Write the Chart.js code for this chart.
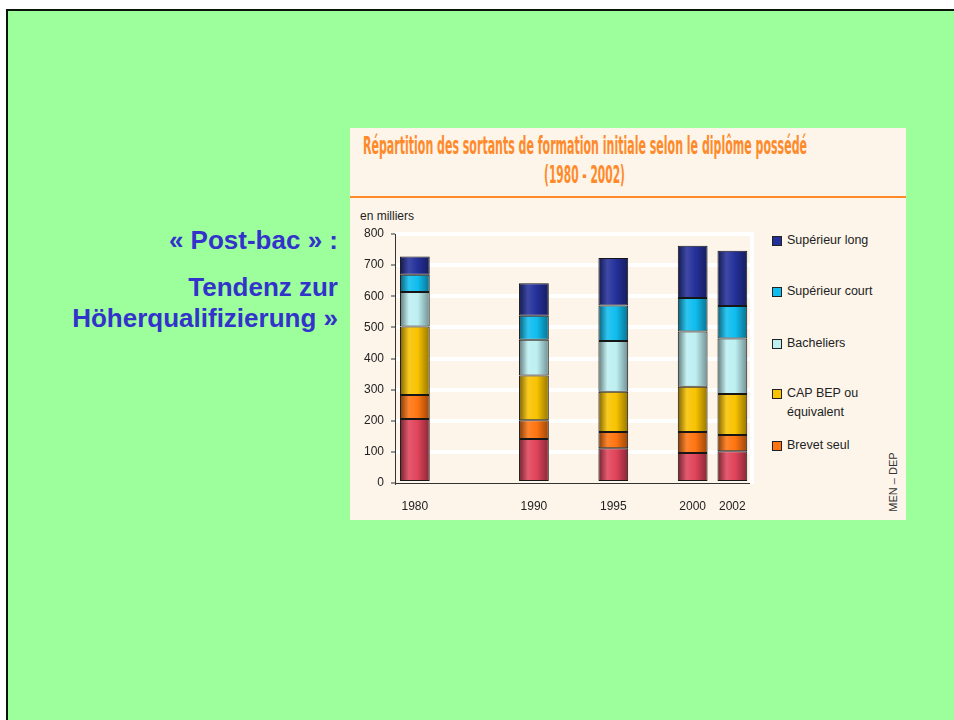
<!DOCTYPE html>
<html lang="fr">
<head>
<meta charset="UTF-8">
<title>Répartition des sortants de formation initiale</title>
<script src="https://cdn.jsdelivr.net/npm/chart.js@4.4.1/dist/chart.umd.min.js"></script>
<style>
  html, body { margin: 0; padding: 0; width: 954px; height: 720px; overflow: hidden; background: #fff;
               font-family: "Liberation Sans", Arial, sans-serif; }
  .slide { position: absolute; left: 6px; top: 9px; width: 960px; height: 720px; background: #9CFF9C;
           border-top: 2px solid #0b140b; border-left: 2px solid #0b140b; }
  .side { position: absolute; left: 0; width: 338px; text-align: right; color: #3333CC;
          font-weight: bold; font-size: 26px; line-height: 30px; white-space: nowrap; }
  .panel { position: absolute; left: 350px; top: 128px; width: 556px; height: 392px; background: #FDF5EA; }
  .title { position: absolute; color: #FF8A2A; font-family: "DejaVu Sans Condensed", "DejaVu Sans", sans-serif;
           font-weight: bold; font-size: 25px; line-height: 26px; white-space: nowrap; transform-origin: 0 50%; }
  .rule { position: absolute; left: 350px; top: 196px; width: 556px; height: 2px; background: #FF8A2A; }
  #wrap { position: absolute; left: 350px; top: 200px; width: 412px; height: 320px; }
  .unit { position: absolute; left: 360px; top: 209px; font-size: 12px; color: #222; }
  #legend { position: absolute; left: 772px; top: 0; font-size: 12.5px; color: #222; }
  .item { position: absolute; left: 0; white-space: nowrap; line-height: 19px; }
  .sq { position: absolute; left: 0; top: 5px; width: 8px; height: 8px; border: 1px solid #222; }
  .lbl { position: absolute; left: 15px; top: 0; }
  .src { position: absolute; left: 863px; top: 476px; width: 60px; font-size: 11px; color: #333;
         transform: rotate(-90deg); text-align: center; white-space: nowrap; }
</style>
</head>
<body>
<div class="slide"></div>
<div class="side" style="top:225px">« Post-bac » :</div>
<div class="side" style="top:272px">Tendenz zur</div>
<div class="side" style="top:303px">Höherqualifizierung »</div>

<div class="panel"></div>
<div class="title" id="t1" style="left:363px; top:133px" data-w="444">Répartition des sortants de formation initiale selon le diplôme possédé</div>
<div class="title" id="t2" style="left:544px; top:162px" data-w="81">(1980 - 2002)</div>
<div class="rule"></div>
<div class="unit">en milliers</div>
<div id="wrap"><canvas id="chart"></canvas></div>
<div id="legend"></div>
<div class="src">MEN – DEP</div>

<script>
// slots on the category axis (empty ones keep the uneven year spacing)
const slots = ['1980', '', '', '1990', '', '1995', '', '2000', '2002'];

// en milliers
const sansDiplome = [206, null, null, 141, null, 112, null, 96, 102];
const brevetSeul  = [77, null, null, 61, null, 52, null, 68, 52];
const capBep      = [220, null, null, 143, null, 129, null, 145, 132];
const bacheliers  = [111, null, null, 115, null, 163, null, 178, 178];
const supCourt    = [55, null, null, 77, null, 114, null, 107, 105];
const supLong     = [59, null, null, 105, null, 153, null, 168, 177];

const yMax = 800;
const yStep = 100;

// fit the condensed title lines to their width
document.querySelectorAll('.title').forEach(el => {
    const w = el.getBoundingClientRect().width;
    el.style.transform = 'scaleX(' + (el.dataset.w / w) + ')';
});

function rgb(hex) {
    const n = parseInt(hex.slice(1), 16);
    return [(n >> 16) & 255, (n >> 8) & 255, n & 255];
}
function mix(hex, f) {
    // f < 1 darkens, f > 1 lightens toward white
    const c = rgb(hex).map(v => f <= 1 ? v * f : v + (255 - v) * (f - 1));
    return 'rgb(' + c.map(v => Math.round(v)).join(',') + ')';
}

// cylinder-like shading across each bar
function barFill(base) {
    return function (ctx) {
        const xs = ctx.chart.scales.x;
        if (ctx.type !== 'data' || !xs) return base;
        const cx = xs.getPixelForValue(ctx.dataIndex);
        const w = xs.width / slots.length * 0.75;
        if (!isFinite(cx) || !isFinite(w) || w <= 0) return base;
        const g = ctx.chart.ctx.createLinearGradient(cx - w / 2, 0, cx + w / 2, 0);
        g.addColorStop(0, mix(base, 0.5));
        g.addColorStop(0.3, mix(base, 1.12));
        g.addColorStop(0.6, base);
        g.addColorStop(1, mix(base, 0.6));
        return g;
    };
}

const series = [
    { label: 'Sans diplôme', data: sansDiplome, color: '#E0435A', legend: false },
    { label: 'Brevet seul', data: brevetSeul, color: '#FF7410', legend: true, y: 445 },
    { label: 'CAP BEP ou<br>équivalent', data: capBep, color: '#F8C300', legend: true, y: 393 },
    { label: 'Bacheliers', data: bacheliers, color: '#BDEFF1', legend: true, y: 343 },
    { label: 'Supérieur court', data: supCourt, color: '#0FBDEE', legend: true, y: 291 },
    { label: 'Supérieur long', data: supLong, color: '#24309A', legend: true, y: 240 }
];

// html legend
const legend = document.getElementById('legend');
series.filter(s => s.legend).forEach(s => {
    const d = document.createElement('div');
    d.className = 'item';
    d.style.top = (s.y - 9) + 'px';
    d.innerHTML = '<span class="sq" style="background:' + s.color + '"></span><span class="lbl">' + s.label + '</span>';
    legend.appendChild(d);
});

new Chart(document.getElementById('chart'), {
    type: 'bar',
    data: {
        labels: slots,
        datasets: series.map(s => ({
            label: s.label.replace('<br>', ' '),
            data: s.data,
            backgroundColor: barFill(s.color),
            borderColor: '#161616',
            borderWidth: 1,
            borderSkipped: false,
            barPercentage: 0.75,
            categoryPercentage: 1
        }))
    },
    options: {
        responsive: true,
        maintainAspectRatio: false,
        animation: false,
        layout: { padding: { top: 34, left: 0, right: 0, bottom: 0 } },
        plugins: { legend: { display: false }, tooltip: { enabled: false } },
        scales: {
            x: {
                stacked: true,
                grid: { display: false, drawTicks: false },
                border: { color: '#333', width: 1 },
                ticks: { color: '#222', font: { family: 'Liberation Sans', size: 12 }, padding: 16,
                         autoSkip: false, maxRotation: 0 },
                afterFit: s => { s.height = 37; }
            },
            y: {
                stacked: true,
                min: 0,
                max: yMax,
                grid: {
                    color: c => c.tick && c.tick.value === 0 ? 'rgba(0,0,0,0)' : '#ffffff',
                    lineWidth: 4,
                    tickColor: '#333',
                    tickLength: 4,
                    tickWidth: 1
                },
                border: { color: '#333', width: 1 },
                ticks: { stepSize: yStep, color: '#222', font: { family: 'Liberation Sans', size: 12 }, padding: 7 },
                afterFit: s => { s.width = 45; }
            },
            y2: {
                position: 'right',
                min: 0,
                max: yMax,
                grid: { display: false },
                ticks: { display: false },
                border: { color: '#ffffff', width: 4 },
                afterFit: s => { s.width = 5; }
            }
        }
    }
});
</script>
</body>
</html>
